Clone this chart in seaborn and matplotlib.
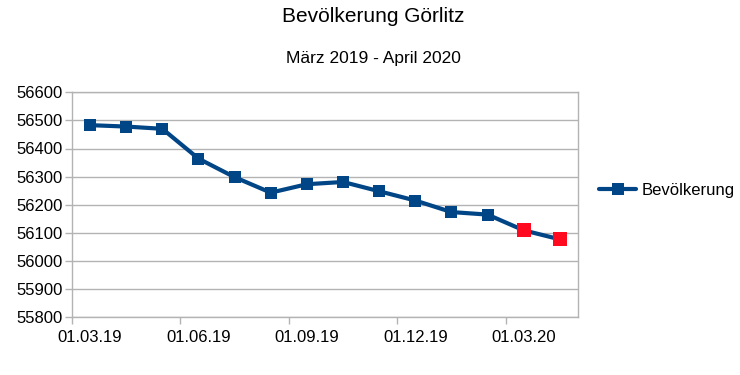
import matplotlib
matplotlib.use("Agg")
import matplotlib.pyplot as plt
import seaborn as sns
import pandas as pd
from matplotlib.lines import Line2D

# monthly population of Görlitz
months = ["01.03.19", "01.04.19", "01.05.19", "01.06.19", "01.07.19", "01.08.19",
          "01.09.19", "01.10.19", "01.11.19", "01.12.19", "01.01.20", "01.02.20",
          "01.03.20", "01.04.20"]
population = [56483, 56478, 56470, 56364, 56298, 56243,
              56273, 56281, 56248, 56215, 56174, 56165,
              56109, 56077]
highlight = ["01.03.20", "01.04.20"]
tick_months = ["01.03.19", "01.06.19", "01.09.19", "01.12.19", "01.03.20"]

df = pd.DataFrame({"Datum": months, "Bevölkerung": population})
df["pos"] = range(len(df))
hl = df[df["Datum"].isin(highlight)]

blue = "#004586"
red = "#ff0a1e"
grey = "#b3b3b3"

sns.set_style("white")
plt.rcParams["font.family"] = ["Liberation Sans", "DejaVu Sans"]
plt.rcParams["text.color"] = "black"
plt.rcParams["xtick.labelcolor"] = "black"
plt.rcParams["ytick.labelcolor"] = "black"

fig = plt.figure(figsize=(7.4, 3.75), dpi=100)
ax = fig.add_axes([0.0973, 0.154, 0.781 - 0.0973, 0.754 - 0.154])

sns.lineplot(data=df, x="pos", y="Bevölkerung", ax=ax, color=blue, linewidth=3,
             marker="s", markersize=9, markeredgewidth=0, legend=False, zorder=3)
sns.scatterplot(data=hl, x="pos", y="Bevölkerung", ax=ax, color=red, marker="s",
                s=100, linewidth=0, legend=False, zorder=4)

ax.set_xlim(-0.5, len(months) - 0.5)
ax.set_ylim(55800, 56600)
ax.set_yticks(range(55800, 56601, 100))
ax.yaxis.grid(True, color=grey, linewidth=1)
ax.xaxis.grid(False)

ax.set_xticks([months.index(m) for m in tick_months])
ax.set_xticklabels(tick_months)
ax.set_xticks([i - 0.5 for i in range(0, len(months), 3)], minor=True)
ax.tick_params(axis="x", which="major", length=0, pad=9, labelsize=12, labelcolor="black")
ax.tick_params(axis="x", which="minor", length=5, width=1, color=grey, bottom=True)
ax.tick_params(axis="y", length=5, width=1, color=grey, pad=2, labelsize=12, left=True,
               labelcolor="black")
ax.set_xlabel("")
ax.set_ylabel("")

for s in ax.spines.values():
    s.set_color(grey)
    s.set_linewidth(1)

fig.text(0.504, 0.955, "Bevölkerung Görlitz", ha="center", va="center", fontsize=15,
         color="black")
fig.text(0.504, 0.845, "März 2019 - April 2020", ha="center", va="center", fontsize=12.5,
         color="black")

handle = Line2D([], [], color=blue, linewidth=3, marker="s", markersize=9, markeredgewidth=0)
leg = fig.legend([handle], ["Bevölkerung"], loc="center left", bbox_to_anchor=(0.81, 0.493),
                 frameon=False, fontsize=12, handlelength=2.2, handletextpad=0.35,
                 borderpad=0, borderaxespad=0)
for t in leg.get_texts():
    t.set_color("black")

fig.savefig("out.png", dpi=100)
